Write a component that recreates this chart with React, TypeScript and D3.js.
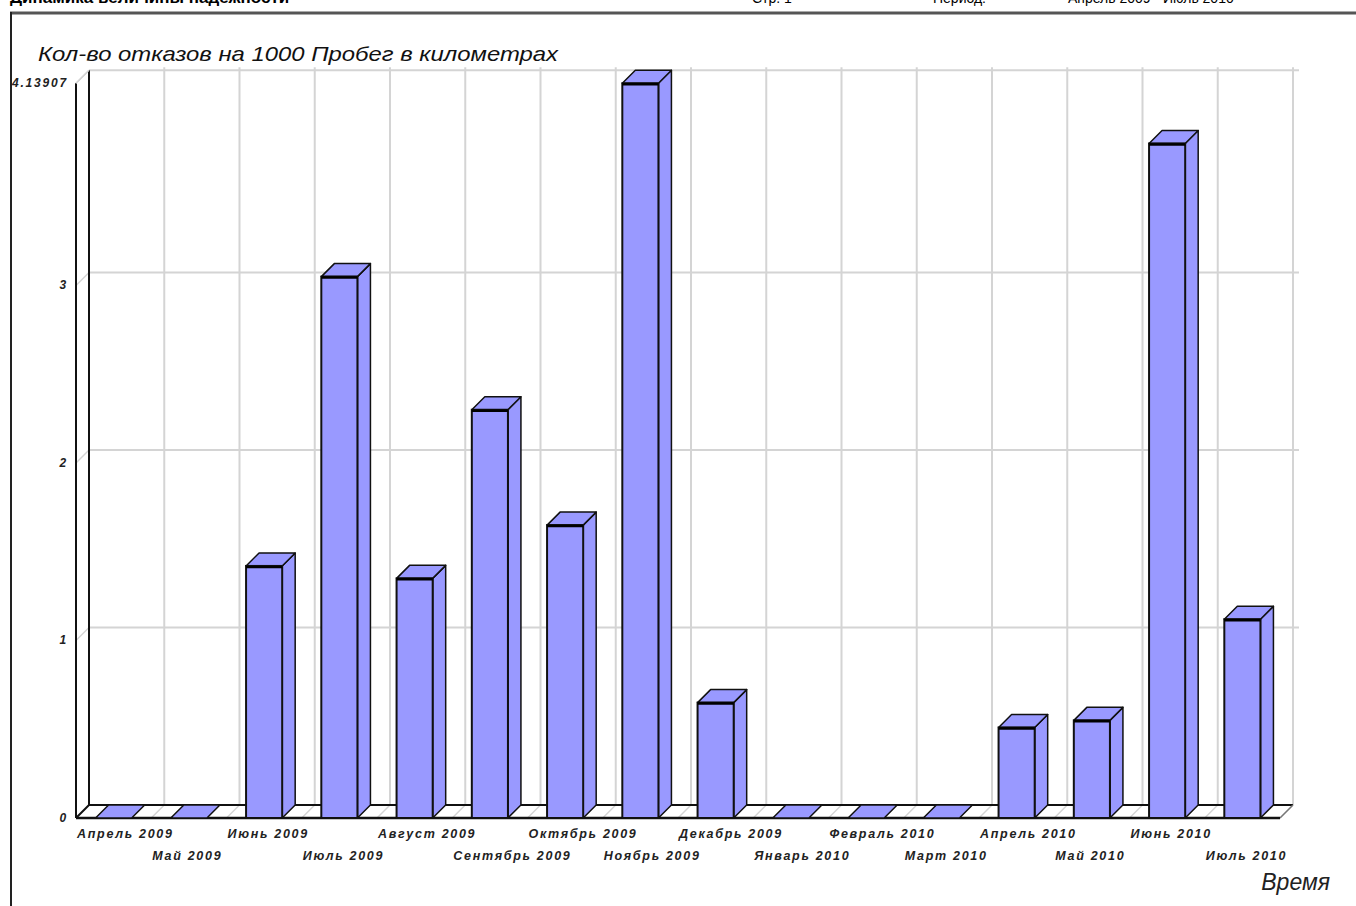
import React from "react";
import * as d3 from "d3";

const categories = [
  "Апрель 2009", "Май 2009", "Июнь 2009", "Июль 2009", "Август 2009", "Сентябрь 2009",
  "Октябрь 2009", "Ноябрь 2009", "Декабрь 2009", "Январь 2010", "Февраль 2010", "Март 2010",
  "Апрель 2010", "Май 2010", "Июнь 2010", "Июль 2010",
];
const values = [0, 0, 1.42, 3.05, 1.35, 2.3, 1.65, 4.13907, 0.65, 0, 0, 0, 0.51, 0.55, 3.8, 1.12];
const yTicks = [0, 1, 2, 3, 4.13907];
const yTickLabels = ["0", "1", "2", "3", "4.13907"];
const title = "Кол-во отказов на 1000 Пробег в километрах";
const xTitle = "Время";
const headerLeft = "Динамика величины надежности";
const headerItems = ["Стр. 1", "Период:", "Апрель 2009 - Июль 2010"];

const W = 1356, H = 906;
const FL = 76, FR = 1280, FB = 818; // front axis
const DX = 13, DY = 13; // 3D depth
const FONT = "'Liberation Sans', Arial, sans-serif";
const BAR = "#9999ff";
const GRID = "#d4d4d4";

export default function App() {
  const x = d3.scaleBand<string>().domain(categories).range([FL, FR]).padding(0);
  const y = d3.scaleLinear().domain([0, 4.13907]).range([FB, FB - 734.7]);
  const bw = x.bandwidth() * 0.48;
  const off = (x.bandwidth() - bw) / 2;
  const boundaries = categories.map((c) => x(c)!).concat([FR]);
  const yTop = y(4.13907);

  return (
    <div style={{ position: "absolute", left: 0, top: 0 }}>
      <svg width={W} height={H} style={{ display: "block", background: "#fff" }} fontFamily={FONT}>
        {/* header (cut off at top, as in the reference) */}
        <text x={10} y={3} fontSize={17} fontWeight="bold" fill="#000">{headerLeft}</text>
        <text x={752} y={3} fontSize={14} fill="#000">{headerItems[0]}</text>
        <text x={933} y={3} fontSize={14} fill="#000">{headerItems[1]}</text>
        <text x={1068} y={3} fontSize={14} fill="#000">{headerItems[2]}</text>
        <line x1={10} x2={W} y1={13} y2={13} stroke="#555" strokeWidth={3} />
        <line x1={11} x2={11} y1={12} y2={H} stroke="#222" strokeWidth={2} />

        {/* title */}
        <text x={38} y={61} fontSize={21} fontStyle="italic" fill="#111" textLength={520} lengthAdjust="spacingAndGlyphs">{title}</text>

        {/* back wall grid */}
        {yTicks.slice(1).map((t, i) => (
          <g key={"hg" + i}>
            <line x1={FL + DX} x2={FR + DX + 6} y1={y(t) - DY} y2={y(t) - DY} stroke={GRID} strokeWidth={2} />
            <line x1={FL} x2={FL + DX} y1={y(t)} y2={y(t) - DY} stroke={GRID} strokeWidth={1.5} />
          </g>
        ))}
        {boundaries.slice(1).map((bx, i) => (
          <line key={"vg" + i} x1={bx + DX} x2={bx + DX} y1={yTop - DY - 3} y2={FB - DY} stroke={GRID} strokeWidth={2} />
        ))}

        {/* floor */}
        <polygon points={`${FL},${FB} ${FR},${FB} ${FR + DX},${FB - DY} ${FL + DX},${FB - DY}`} fill="#fff" stroke="none" />
        {boundaries.map((bx, i) => (
          <line key={"fh" + i} x1={bx} x2={bx + DX} y1={FB} y2={FB - DY} stroke={GRID} strokeWidth={1.5} />
        ))}
        <line x1={FL + DX} x2={FR + DX} y1={FB - DY} y2={FB - DY} stroke="#111" strokeWidth={2} />
        <line x1={FR} x2={FR + DX} y1={FB} y2={FB - DY} stroke="#777" strokeWidth={1.5} />
        <line x1={FL} x2={FR} y1={FB} y2={FB} stroke="#111" strokeWidth={2.5} />

        {/* left wall */}
        <line x1={FL + DX} x2={FL + DX} y1={yTop - DY} y2={FB - DY} stroke="#111" strokeWidth={2} />
        <line x1={FL} x2={FL} y1={yTop} y2={FB} stroke="#111" strokeWidth={2} />
        <line x1={FL} x2={FL + DX} y1={yTop} y2={yTop - DY} stroke={GRID} strokeWidth={1.5} />
        <line x1={FL} x2={FL + DX} y1={FB} y2={FB - DY} stroke="#111" strokeWidth={2} />

        {/* bars */}
        {categories.map((c, i) => {
          const x0 = x(c)! + off;
          const x1 = x0 + bw;
          const top = y(values[i]);
          const h = FB - top;
          const stroke = "#111";
          if (h < 0.5) {
            return (
              <polygon key={c} points={`${x0},${FB} ${x0 + DX},${FB - DY} ${x1 + DX},${FB - DY} ${x1},${FB}`}
                fill={BAR} stroke={stroke} strokeWidth={1.5} strokeLinejoin="round" />
            );
          }
          return (
            <g key={c}>
              <polygon points={`${x1},${FB} ${x1 + DX},${FB - DY} ${x1 + DX},${top - DY} ${x1},${top}`}
                fill={BAR} stroke={stroke} strokeWidth={1.5} strokeLinejoin="round" />
              <polygon points={`${x0},${top} ${x0 + DX},${top - DY} ${x1 + DX},${top - DY} ${x1},${top}`}
                fill={BAR} stroke={stroke} strokeWidth={1.5} strokeLinejoin="round" />
              <rect x={x0} y={top} width={bw} height={h} fill={BAR} stroke={stroke} strokeWidth={2} />
              <line x1={x0} x2={x1} y1={top + 1} y2={top + 1} stroke="#000" strokeWidth={2.5} />
            </g>
          );
        })}

        {/* y labels */}
        {yTicks.map((t, i) => (
          <text key={"yl" + i} x={68} y={y(t) + 4} fontSize={12} fontStyle="italic" fontWeight="bold"
            letterSpacing={1.8} textAnchor="end" fill="#222">{yTickLabels[i]}</text>
        ))}

        {/* x labels */}
        {categories.map((c, i) => (
          <text key={"xl" + i} x={x(c)! + 1} y={i % 2 === 0 ? 838 : 860} fontSize={12.5}
            fontStyle="italic" fontWeight="bold" letterSpacing={1.7} fill="#222">{c}</text>
        ))}

        <text x={1330} y={890} fontSize={23} fontStyle="italic" textAnchor="end" fill="#222">{xTitle}</text>
      </svg>
    </div>
  );
}
